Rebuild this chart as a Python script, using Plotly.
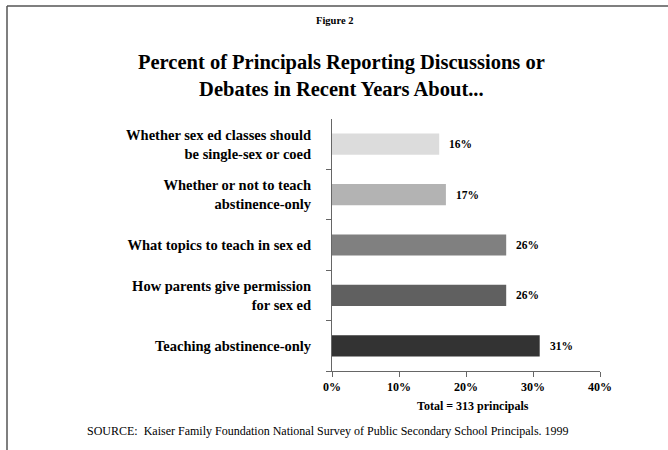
import plotly.graph_objects as go

categories = [
    "Whether sex ed classes should<br>be single-sex or coed",
    "Whether or not to teach<br>abstinence-only",
    "What topics to teach in sex ed",
    "How parents give permission<br>for sex ed",
    "Teaching abstinence-only",
]
values = [16, 17, 26, 26, 31]
bar_colors = ["#dcdcdc", "#b3b3b3", "#808080", "#606060", "#333333"]
tick_vals = [0, 10, 20, 30, 40]
tick_text = ["0%", "10%", "20%", "30%", "40%"]

FONT = "Liberation Serif, Times New Roman, serif"
AX = "#666666"

# plot area pixel geometry
L, R, T, B = 332, 600, 119, 371
W, H = 668, 450
def px_x(px):
    return (px - L) / (R - L)
def px_y(py):
    return (B - py) / (B - T)

fig = go.Figure()
fig.add_trace(go.Bar(
    y=categories[::-1], x=values[::-1], orientation="h",
    marker=dict(color=bar_colors[::-1], line=dict(width=0)),
    width=0.42, hoverinfo="skip",
))

for c, v in zip(categories, values):
    fig.add_annotation(x=v, y=c, xref="x", yref="y", text=f"<b>{v}%</b>",
                       showarrow=False, xanchor="left", xshift=8,
                       font=dict(family=FONT, size=11.5, color="#000"))

fig.update_layout(
    width=W, height=H,
    margin=dict(l=L, r=W - R, t=T, b=H - B),
    paper_bgcolor="white", plot_bgcolor="white",
    showlegend=False,
    font=dict(family=FONT, color="#000"),
    bargap=0.58,
)
fig.update_xaxes(range=[0, 40], tickvals=tick_vals, ticktext=[f"<b>{t}</b>" for t in tick_text],
                 showgrid=False, zeroline=False, showline=True, linecolor=AX, linewidth=1,
                 ticks="outside", ticklen=5, tickcolor=AX,
                 tickfont=dict(family=FONT, size=12, color="#000"), fixedrange=True)
fig.update_yaxes(categoryorder="array", categoryarray=categories[::-1],
                 tickvals=categories, ticktext=[f"<b>{c}</b>" for c in categories],
                 showgrid=False, zeroline=False, showline=True, linecolor=AX, linewidth=1,
                 ticks="outside", ticklen=5, tickcolor=AX, tickson="boundaries",
                 ticklabelstandoff=17,
                 tickfont=dict(family=FONT, size=14.5, color="#000"), fixedrange=True)

# frame lines
fig.add_shape(type="line", xref="paper", yref="paper", x0=px_x(7), x1=px_x(668), y0=px_y(6), y1=px_y(6),
              line=dict(color="#555555", width=1.5))
fig.add_shape(type="line", xref="paper", yref="paper", x0=px_x(7), x1=px_x(7), y0=px_y(6), y1=px_y(450),
              line=dict(color="#555555", width=1.5))

# texts
fig.add_annotation(xref="paper", yref="paper", x=px_x(334), y=px_y(20), text="<b>Figure 2</b>",
                   showarrow=False, xanchor="center", yanchor="middle",
                   font=dict(family=FONT, size=10.5, color="#000"))
fig.add_annotation(xref="paper", yref="paper", x=px_x(341), y=px_y(76),
                   text="<b>Percent of Principals Reporting Discussions or<br>Debates in Recent Years About...</b>",
                   showarrow=False, xanchor="center", yanchor="middle",
                   font=dict(family=FONT, size=20.5, color="#000"))
fig.add_annotation(xref="paper", yref="paper", x=px_x(473), y=px_y(406), text="<b>Total = 313 principals</b>",
                   showarrow=False, xanchor="center", yanchor="middle",
                   font=dict(family=FONT, size=12, color="#000"))
fig.add_annotation(xref="paper", yref="paper", x=px_x(85), y=px_y(431),
                   text="SOURCE:  Kaiser Family Foundation National Survey of Public Secondary School Principals. 1999",
                   showarrow=False, xanchor="left", yanchor="middle",
                   font=dict(family=FONT, size=12, color="#000"))

fig.write_html("out.html", config={"displayModeBar": False})
